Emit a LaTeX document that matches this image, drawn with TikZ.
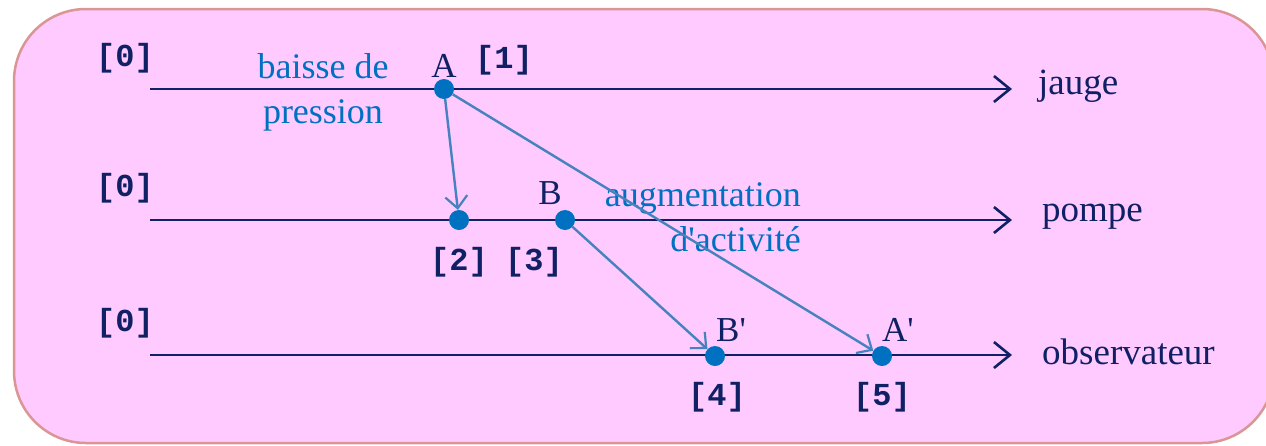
\documentclass[tikz,border=0pt]{standalone}
\usepackage{fontspec}
\setmainfont{Liberation Serif}[Ligatures=TeXOff]
\setmonofont{Liberation Mono}
\usetikzlibrary{arrows.meta}
\definecolor{navy}{RGB}{16,32,100}
\definecolor{lblue}{RGB}{0,112,192}
\definecolor{conn}{RGB}{70,130,190}
\definecolor{bgpink}{RGB}{255,202,255}
\definecolor{border}{RGB}{217,150,148}
\begin{document}
\begin{tikzpicture}[x=1pt,y=-1pt,
  timeline/.style={draw=navy,line width=2.8pt,-{Straight Barb[length=16pt,width=26pt,line width=2.6pt]}},
  connarrow/.style={draw=conn,line width=2.4pt,-{Straight Barb[length=12pt,width=22pt,line width=2.2pt]}},
  evdot/.style={circle,fill=lblue,inner sep=0pt,minimum size=20pt},
  idx/.style={font=\ttfamily\bfseries\fontsize{32}{34}\selectfont,text=navy,inner sep=0pt},
  lineName/.style={font=\fontsize{37}{40}\selectfont,text=navy,anchor=west,inner sep=0pt},
  evname/.style={font=\fontsize{35}{37}\selectfont,text=navy,inner sep=0pt},
  bluelbl/.style={font=\fontsize{36}{45}\selectfont,text=lblue,inner sep=0pt,align=center}]
\useasboundingbox (0,0) rectangle (1266,445);
\begin{scope}
\clip (0,0) rectangle (1266,445);
\draw[fill=bgpink,draw=border,line width=2.5pt,rounded corners=72pt] (14,9) rectangle (1274,443);
\end{scope}
% timelines
\coordinate (s1) at (150,89);  \coordinate (e1) at (1012,89);
\coordinate (s2) at (150,220); \coordinate (e2) at (1012,220);
\coordinate (s3) at (150,355); \coordinate (e3) at (1012,355);
\draw[timeline] (s1) -- (e1);
\draw[timeline] (s2) -- (e2);
\draw[timeline] (s3) -- (e3);
\node[lineName] (nj) at (1038,86) {jauge};
\node[lineName] (np) at (1042,217) {pompe};
\node[lineName] (no) at (1042,352) {observateur};
% index labels
\node[idx] (i01) at (125,58) {[0]};
\node[idx] (i02) at (125,188) {[0]};
\node[idx] (i03) at (125,323) {[0]};
% dots
\node[evdot] (dA) at (444,89) {};
\node[evdot] (d2) at (459,220) {};
\node[evdot] (dB) at (565,220) {};
\node[evdot] (dB2) at (715,356) {};
\node[evdot] (dA2) at (882,356) {};
% event names
\node[evname] (lA) at (444,66) {A};
\node[idx] (i1) at (504,60) {[1]};
\node[evname] (lB) at (550,193) {B};
\node[idx] (i2) at (459,262) {[2]};
\node[idx] (i3) at (534,262) {[3]};
\node[evname] (lB2) at (731,330) {B'};
\node[evname] (lA2) at (898,330) {A'};
\node[idx] (i4) at (717,397) {[4]};
\node[idx] (i5) at (882,397) {[5]};
% blue labels
\node[bluelbl] (baisse) at (323,92) {baisse de\\pression};
\node[bluelbl,align=right,anchor=east] (augm) at (801,217) {augmentation\\d'activité};
% connectors
\draw[connarrow] (dA) -- (d2);
\draw[connarrow] (dA) -- (dA2);
\draw[connarrow] (dB) -- (dB2);
\end{tikzpicture}
\end{document}
